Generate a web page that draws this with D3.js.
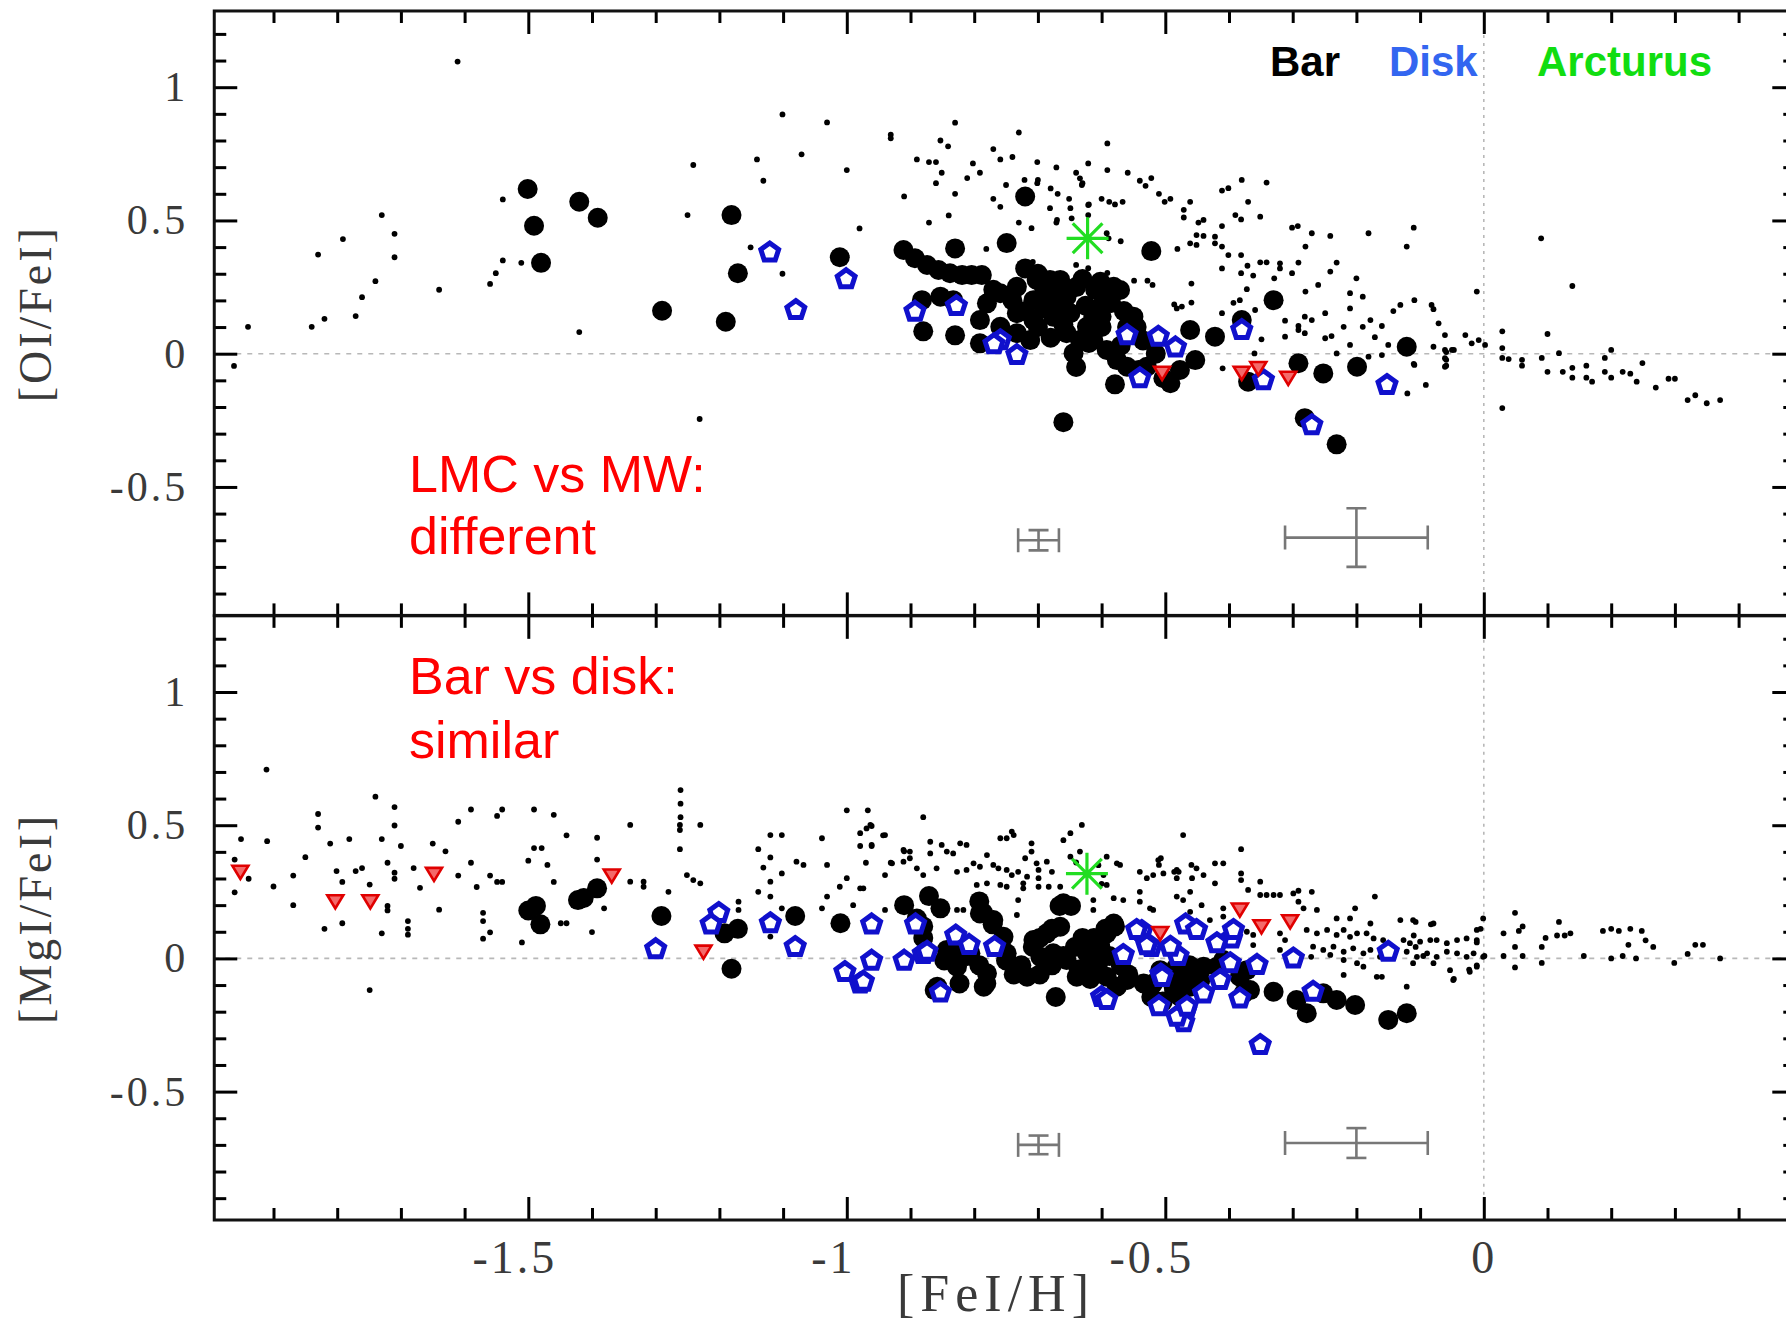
<!DOCTYPE html>
<html><head><meta charset="utf-8">
<script src="https://cdn.jsdelivr.net/npm/d3@7"></script>
<style>html,body{margin:0;padding:0;background:#fff;overflow:hidden}</style>
</head><body><svg id="c" width="1786" height="1324"></svg>
<script>
// ---------- DATA ----------
const xMajorTicks = [-1.5, -1, -0.5, 0];
const xTickLabels = ["-1.5", "-1", "-0.5", "0"];
const yMajorTicks = [-0.5, 0, 0.5, 1];
const yTickLabels = ["-0.5", "0", "0.5", "1"];

// Top panel [OI/FeI]
const mwO = [[-1.611,1.096],[-1.940,0.101],[-1.962,-0.046],[-1.840,0.101],[-1.820,0.131],[-1.830,0.372],[-1.791,0.430],[-1.730,0.520],[-1.710,0.450],[-1.710,0.362],[-1.740,0.272],[-1.761,0.212],[-1.771,0.141],[-1.640,0.240],[-1.560,0.262],[-1.551,0.302],[-1.540,0.350],[-1.511,0.341],[-1.540,0.579],[-1.420,0.081],[-1.250,0.520],[-1.241,0.708],[-1.141,0.729],[-1.131,0.649],[-1.151,0.399],[-1.101,0.300],[-1.101,0.898],[-1.071,0.748],[-1.031,0.868],[-1.000,0.689],[-0.980,0.470],[-1.231,-0.245],
[-0.931,0.808],[-0.931,0.822],[-0.830,0.867],[-0.853,0.800],[-0.841,0.778],[-0.890,0.729],[-0.871,0.719],[-0.860,0.719],[-0.851,0.679],[-0.860,0.640],[-0.910,0.590],[-0.840,0.519],[-0.871,0.492],[-0.830,0.600],[-0.811,0.659],[-0.802,0.714],[-0.791,0.679],[-0.770,0.768],[-0.759,0.729],[-0.740,0.738],[-0.730,0.830],[-0.750,0.633],[-0.770,0.581],[-0.759,0.551],[-0.730,0.492],[-0.710,0.471],[-0.781,0.393],[-0.701,0.719],[-0.701,0.640],[-0.671,0.699],[-0.680,0.620],[-0.669,0.600],[-0.651,0.581],[-0.671,0.492],[-0.640,0.679],[-0.630,0.640],[-0.621,0.714],[-0.620,0.560],[-0.591,0.789],[-0.591,0.689],[-0.600,0.581],[-0.588,0.570],[-0.579,0.560],[-0.567,0.570],[-0.559,0.679],[-0.540,0.649],[-0.531,0.630],[-0.522,0.659],[-0.510,0.600],[-0.501,0.570],[-0.492,0.581],[-0.471,0.540],[-0.471,0.511],[-0.640,0.333],[-0.621,0.321],[-0.591,0.303],[-0.589,0.433],[-0.570,0.422],[-0.549,0.274],[-0.528,0.274],[-0.481,0.393],[-0.459,0.263],[-0.708,0.344],[-0.486,0.185],[-0.474,0.177],[-0.459,0.192],
[-0.721,0.652],[-0.700,0.652],[-0.634,0.658],[-0.631,0.633],[-0.681,0.546],[-0.670,0.502],[-0.649,0.546],[-0.647,0.508],[-0.621,0.558],[-0.621,0.520],[-0.592,0.452],[-0.520,0.258],[-0.482,0.170],
[-0.380,0.652],[-0.341,0.642],[-0.411,0.612],[-0.401,0.621],[-0.461,0.570],[-0.370,0.570],[-0.390,0.520],[-0.381,0.504],[-0.351,0.514],[-0.448,0.492],[-0.440,0.502],[-0.411,0.479],[-0.451,0.445],[-0.440,0.442],[-0.422,0.439],[-0.422,0.414],[-0.461,0.414],[-0.451,0.408],[-0.411,0.402],[-0.401,0.370],[-0.381,0.370],[-0.411,0.320],[-0.371,0.330],[-0.381,0.302],[-0.362,0.293],[-0.351,0.343],[-0.341,0.343],[-0.320,0.339],[-0.320,0.320],[-0.291,0.342],[-0.301,0.302],[-0.329,0.283],[-0.270,0.452],[-0.301,0.473],[-0.292,0.479],[-0.241,0.442],[-0.280,0.402],[-0.181,0.452],[-0.110,0.473],[-0.121,0.402],[-0.231,0.342],[-0.241,0.308],[-0.260,0.258],[-0.280,0.233],[-0.200,0.283],[-0.210,0.227],[-0.190,0.214],[-0.210,0.170],[-0.372,0.242],[-0.393,0.191],[-0.383,0.201],[-0.411,0.152],[-0.359,0.164],[-0.312,0.124],[-0.291,0.104],[-0.291,0.089],[-0.281,0.139],[-0.270,0.126],[-0.281,0.077],[-0.312,0.064],[-0.349,0.054],[-0.249,0.152],[-0.249,0.058],[-0.239,0.066],[-0.220,0.101],[-0.210,0.033],[-0.231,0.001],[-0.178,0.126],[-0.190,0.101],[-0.160,0.104],[-0.171,0.062],[-0.160,-0.005],[-0.150,0.033],[-0.181,-0.011],[-0.142,0.160],[-0.131,0.183],[-0.109,0.201],[-0.082,0.183],[-0.079,0.167],[-0.071,0.114],[-0.061,0.070],[-0.029,0.070],[-0.019,0.039],[-0.008,0.051],[0.002,0.033],[-0.061,0.014],[-0.050,0.014],[-0.061,-0.017],[-0.061,-0.049],[-0.079,0.026],[-0.109,-0.042],[-0.091,-0.117],[-0.120,-0.149],[-0.011,0.233],[-0.410,-0.055],[-0.360,0.001],
[0.090,0.433],[0.139,0.254],[0.029,0.084],[0.100,0.074],[0.029,0.021],[0.029,-0.016],[0.039,-0.020],[0.060,-0.023],[0.060,-0.045],[0.091,-0.016],[0.118,0.002],[0.100,-0.068],[0.124,-0.068],[0.139,-0.053],[0.139,-0.090],[0.161,-0.045],[0.161,-0.090],[0.170,-0.105],[0.190,-0.016],[0.200,0.014],[0.190,-0.068],[0.200,-0.090],[0.218,-0.068],[0.230,-0.075],[0.240,-0.105],[0.249,-0.035],[0.270,-0.127],[0.290,-0.094],[0.300,-0.094],[0.320,-0.174],[0.332,-0.156],[0.350,-0.186],[0.371,-0.174],[0.029,-0.204],[-0.059,0.006],[-0.059,-0.023],[-0.059,-0.045],[-0.047,0.014],[-0.110,-0.038]];
const barO = [[-1.501,0.618],[-1.491,0.480],[-1.480,0.341],[-1.420,0.570],[-1.391,0.510],[-1.290,0.161],[-1.190,0.120],[-1.181,0.520],[-1.171,0.302],[-1.011,0.362],
[-0.720,0.590],[-0.830,0.395],[-0.749,0.415],[-0.522,0.385],[-0.660,-0.257],[-0.880,0.084],[-0.830,0.069],[-0.579,-0.115],[-0.640,-0.050],
[-0.911,0.389],[-0.893,0.358],[-0.874,0.333],[-0.856,0.314],[-0.838,0.302],[-0.819,0.295],[-0.804,0.295],[-0.788,0.295],
[-0.882,0.201],[-0.853,0.214],[-0.833,0.201],[-0.791,0.039],[-0.780,0.189],[-0.791,0.126],[-0.759,0.227],[-0.733,0.251],[-0.720,0.320],[-0.702,0.277],[-0.681,0.277],[-0.665,0.277],[-0.707,0.201],[-0.686,0.201],[-0.655,0.214],[-0.733,0.152],[-0.707,0.126],[-0.676,0.139],[-0.649,0.152],[-0.759,0.101],[-0.733,0.077],[-0.712,0.051],[-0.655,0.077],[-0.634,0.051],[-0.644,0.002],[-0.623,0.101],[-0.613,0.139],[-0.602,0.176],[-0.592,0.214],[-0.581,0.251],[-0.571,0.239],[-0.602,0.270],[-0.613,0.051],[-0.592,0.014],[-0.576,-0.024],[-0.560,-0.049],[-0.542,-0.061],[-0.529,-0.049],[-0.550,0.139],[-0.503,-0.092],
[-0.690,0.240],[-0.660,0.180],[-0.640,0.250],[-0.700,0.100],[-0.565,0.160],[-0.600,0.100],[-0.545,0.100],
[-0.740,0.200],[-0.720,0.160],[-0.690,0.170],[-0.670,0.230],[-0.625,0.180],[-0.610,0.240],[-0.585,0.190],[-0.600,0.140],[-0.660,0.110],[-0.680,0.060],[-0.620,0.040],[-0.560,0.100],[-0.570,0.030],[-0.630,0.280],[-0.700,0.300],[-0.770,0.240],[-0.535,0.050],[-0.515,0.000],
[-0.330,0.201],[-0.461,0.089],[-0.422,0.064],[-0.453,-0.024],[-0.477,-0.061],[-0.492,-0.111],[-0.380,0.126],[-0.370,-0.105],[-0.291,-0.036],[-0.252,-0.074],[-0.199,-0.049],[-0.121,0.026],[-0.281,-0.242],[-0.231,-0.340]];
const diskO = [[-1.121,0.380],[-1.080,0.164],[-1.001,0.280],[-0.893,0.158],[-0.733,-0.005],[-0.560,0.070],[-0.511,0.064],[-0.540,-0.092],[-0.759,0.051],[-0.828,0.179],[-0.769,0.036],[-0.380,0.089],[-0.346,-0.099],[-0.152,-0.117],[-0.270,-0.268],[-0.484,0.024]];
const limO = [[-0.505,-0.067],[-0.380,-0.067],[-0.354,-0.049],[-0.307,-0.086]];
const arcO = [[-0.622,0.433]];
const errO = [[-0.699,-0.700,0.032,0.038],[-0.200,-0.690,0.112,0.110]];

// Bottom panel [MgI/FeI]
const mwMg = [[-1.911,0.709],[-1.951,0.448],[-1.910,0.440],[-1.961,0.371],[-1.961,0.248],[-1.939,0.299],[-1.900,0.270],[-1.869,0.311],[-1.869,0.200],[-1.850,0.380],[-1.830,0.542],[-1.830,0.491],[-1.820,0.111],[-1.811,0.431],[-1.801,0.328],[-1.792,0.287],[-1.792,0.132],[-1.781,0.448],[-1.771,0.328],[-1.761,0.339],[-1.749,0.277],[-1.749,-0.119],[-1.740,0.607],[-1.730,0.448],[-1.730,0.094],[-1.721,0.359],[-1.721,0.197],[-1.721,0.180],[-1.710,0.568],[-1.710,0.499],[-1.710,0.322],[-1.710,0.299],[-1.700,0.422],[-1.689,0.140],[-1.689,0.111],[-1.689,0.089],[-1.680,0.339],[-1.670,0.265],[-1.650,0.431],[-1.640,0.183],[-1.630,0.402],[-1.610,0.513],[-1.610,0.311],[-1.590,0.559],[-1.590,0.359],[-1.581,0.268],[-1.571,0.171],[-1.571,0.140],[-1.571,0.074],[-1.560,0.311],[-1.560,0.098],[-1.549,0.535],[-1.541,0.559],[-1.549,0.287],[-1.541,0.287],[-1.510,0.060],[-1.500,0.367],[-1.491,0.414],[-1.479,0.414],[-1.491,0.559],[-1.470,0.351],[-1.460,0.539],[-1.460,0.287],[-1.449,0.132],[-1.440,0.132],[-1.440,0.462],[-1.400,0.099],[-1.392,0.453],[-1.392,0.371],
[-1.340,0.501],[-1.262,0.501],[-1.262,0.482],[-1.230,0.501],[-1.262,0.410],[-1.340,0.288],[-1.319,0.288],[-1.319,0.269],[-1.251,0.313],[-1.241,0.294],[-1.230,0.282],[-1.280,0.250],[-1.381,0.188],[-1.170,0.213],[-1.170,0.182],[-1.120,0.463],[-1.102,0.463],[-1.139,0.410],[-1.120,0.379],[-1.131,0.341],[-1.102,0.319],[-1.120,0.288],[-1.139,0.250],[-1.120,0.232],[-1.102,0.188],[-1.120,0.082],[-1.079,0.363],[-1.068,0.351],[-1.039,0.451],[-1.031,0.351],[-1.031,0.232],[-1.039,0.188],[-1.000,0.301],[-1.011,0.269],[-0.990,0.200],[-0.979,0.263],[-0.979,0.470],[-0.969,0.488],[-0.961,0.497],[-0.979,0.422],[-0.961,0.422],[-0.970,0.359],
[-1.261,0.632],[-1.261,0.581],[-1.261,0.530],[-1.000,0.556],[-0.967,0.556],[-0.880,0.530],[-0.943,0.462],[-0.931,0.359],[-0.910,0.402],
[-0.963,0.501],[-0.940,0.463],[-0.961,0.426],[-0.940,0.313],[-0.911,0.407],[-0.901,0.401],[-0.901,0.376],[-0.911,0.363],[-0.929,0.357],[-0.890,0.338],[-0.880,0.313],[-0.869,0.438],[-0.869,0.394],[-0.851,0.426],[-0.843,0.401],[-0.833,0.394],[-0.822,0.432],[-0.812,0.426],[-0.859,0.338],[-0.827,0.325],[-0.812,0.332],[-0.801,0.357],[-0.791,0.344],[-0.780,0.388],[-0.770,0.351],[-0.762,0.338],[-0.749,0.332],[-0.759,0.451],[-0.749,0.451],[-0.738,0.463],[-0.741,0.476],[-0.710,0.432],[-0.710,0.401],[-0.720,0.376],[-0.702,0.357],[-0.686,0.363],[-0.731,0.325],[-0.741,0.313],[-0.717,0.307],[-0.699,0.332],[-0.678,0.325],[-0.631,0.501],[-0.660,0.444],[-0.649,0.470],[-0.634,0.401],[-0.649,0.382],[-0.592,0.382],[-0.576,0.357],[-0.571,0.351],[-0.597,0.313],[-0.540,0.325],[-0.529,0.301],[-0.519,0.313],[-0.511,0.369],[-0.503,0.319],[-0.482,0.332],[-0.974,0.263],[-0.940,0.182],[-0.827,0.182],[-0.817,0.182],[-0.796,0.276],[-0.780,0.282],[-0.759,0.276],[-0.749,0.269],[-0.731,0.219],[-0.733,0.163],[-0.723,0.282],[-0.723,0.263],[-0.699,0.301],[-0.699,0.269],[-0.683,0.269],[-0.592,0.276],[-0.581,0.226],[-0.566,0.219],[-0.540,0.250],[-0.540,0.213],[-0.524,0.188],[-0.519,0.182],[-0.613,0.219],[-0.613,0.182],[-0.482,0.301],[-0.482,0.232],[-0.665,0.269],[-0.640,0.360],[-0.605,0.350],[-0.600,0.280],[-0.507,0.376],[-0.510,0.351],[-0.486,0.325],[-0.459,0.351],
[-0.472,0.463],[-0.381,0.410],[-0.479,0.325],[-0.458,0.301],[-0.451,0.338],[-0.440,0.313],[-0.422,0.357],[-0.409,0.357],[-0.422,0.282],[-0.381,0.319],[-0.381,0.294],[-0.370,0.257],[-0.351,0.288],[-0.351,0.238],[-0.341,0.238],[-0.330,0.238],[-0.320,0.238],[-0.299,0.244],[-0.291,0.254],[-0.270,0.250],[-0.461,0.250],[-0.472,0.219],[-0.461,0.175],[-0.443,0.200],[-0.409,0.188],[-0.409,0.157],[-0.430,0.144],[-0.291,0.213],[-0.283,0.188],[-0.262,0.182],[-0.171,0.232],[-0.202,0.188],[-0.231,0.150],[-0.210,0.150],[-0.178,0.131],[-0.131,0.144],[-0.111,0.144],[-0.079,0.131],[-0.001,0.150],[-0.011,0.107],
[-0.278,0.107],[-0.262,0.094],[-0.246,0.107],[-0.231,0.088],[-0.220,0.107],[-0.210,0.081],[-0.199,0.094],[-0.184,0.094],[-0.173,0.075],[-0.158,0.069],[-0.126,0.069],[-0.116,0.057],[-0.100,0.063],[-0.084,0.069],[-0.074,0.069],[-0.058,0.057],[-0.042,0.069],[-0.027,0.075],[-0.011,0.069],
[-0.268,0.044],[-0.252,0.032],[-0.236,0.044],[-0.220,0.025],[-0.205,0.038],[-0.189,0.019],[-0.178,0.032],[-0.163,0.006],[-0.121,0.025],[-0.105,0.006],[-0.089,0.019],[-0.074,0.006],[-0.058,0.025],[-0.042,0.019],[-0.027,0.006],[-0.016,0.019],[-0.001,0.006],
[-0.271,0.006],[-0.241,0.013],[-0.220,-0.006],[-0.199,-0.018],[-0.189,-0.031],[-0.220,-0.062],[-0.168,-0.069],[-0.160,-0.069],[-0.121,-0.106],[-0.111,-0.018],[-0.079,-0.018],[-0.053,-0.044],[-0.048,-0.081],[-0.022,-0.050],[-0.011,-0.031],
[-0.398,0.131],[-0.372,0.100],[-0.362,0.088],[-0.362,0.050],[-0.320,0.094],[-0.312,0.069],[-0.320,0.032],
[-0.107,0.137],[-0.083,0.128],[-0.110,0.086],[-0.107,0.043],[-0.095,0.009],[-0.047,-0.077],[-0.023,-0.042],[-0.011,-0.026],[0.001,0.009],[-0.011,0.060],[-0.005,0.111],[0.031,0.094],[0.031,0.009],[0.049,0.043],[0.049,-0.034],[0.055,0.103],[0.049,0.171],[0.061,0.120],[0.061,0.009],[0.091,0.043],[0.091,-0.017],[0.097,0.077],[0.115,0.086],[0.127,0.086],[0.136,0.094],[0.118,0.137],[0.157,0.009],[0.187,0.103],[0.200,0.111],[0.212,0.103],[0.200,0.000],[0.218,0.009],[0.227,0.051],[0.230,0.111],[0.239,0.000],[0.248,0.103],[0.254,0.068],[0.266,0.043],[0.299,-0.017],[0.320,0.017],[0.332,0.051],[0.344,0.051],[0.371,0.000]];
const barMg = [[-1.500,0.180],[-1.488,0.197],[-1.481,0.128],[-1.422,0.219],[-1.413,0.227],[-1.392,0.263],[-1.291,0.159],[-1.192,0.094],[-1.171,0.111],[-1.181,-0.039],[-1.081,0.159],[-1.010,0.132],
[-0.910,0.200],[-0.871,0.234],[-0.853,0.188],[-0.890,0.150],[-0.880,0.120],[-0.880,0.077],[-0.792,0.214],[-0.786,0.171],[-0.771,0.128],[-0.862,-0.119],[-0.823,-0.094],[-0.847,-0.008],[-0.835,0.026],[-0.811,0.009],[-0.792,-0.026],[-0.781,-0.094],[-0.762,0.043],[-0.750,-0.008],[-0.738,-0.060],[-0.726,-0.026],[-0.708,0.043],[-0.697,0.077],[-0.678,0.111],[-0.666,0.197],[-0.648,0.197],[-0.672,-0.145],[-0.697,-0.060],[-0.678,-0.026],[-0.660,0.009],[-0.642,0.043],[-0.630,0.077],[-0.612,0.077],[-0.594,0.111],[-0.579,0.120],[-0.636,-0.042],[-0.618,-0.077],[-0.606,-0.026],[-0.588,0.009],[-0.570,-0.026],[-0.558,-0.060],[-0.534,-0.094],[-0.522,-0.145],[-0.504,-0.162],[-0.486,-0.128],[-0.474,-0.060],[-0.462,-0.026],
[-0.843,0.032],[-0.827,-0.031],[-0.858,-0.106],[-0.806,0.019],[-0.780,-0.056],[-0.785,-0.106],[-0.754,0.081],[-0.749,0.019],[-0.733,-0.031],[-0.717,-0.069],[-0.707,0.069],[-0.686,0.094],[-0.665,0.119],[-0.696,0.006],[-0.676,0.019],[-0.655,-0.006],[-0.791,0.169],[-0.770,0.144],[-0.639,-0.069],[-0.613,-0.018],[-0.602,0.044],[-0.592,0.094],[-0.581,0.131],[-0.623,0.019],[-0.592,-0.069],[-0.576,-0.106],[-0.560,-0.081],[-0.519,-0.094],[-0.508,-0.044],[-0.660,0.207],
[-0.482,-0.031],[-0.461,-0.044],[-0.440,-0.031],[-0.419,-0.031],[-0.487,-0.106],[-0.461,-0.106],[-0.477,-0.144],[-0.445,-0.081],[-0.409,-0.006],[-0.383,-0.069],[-0.372,-0.044],[-0.367,-0.119],[-0.377,-0.131],[-0.330,-0.125],[-0.294,-0.156],[-0.278,-0.206],[-0.252,-0.131],[-0.231,-0.156],[-0.202,-0.175],[-0.150,-0.231],[-0.121,-0.206]];
const diskMg = [[-1.300,0.035],[-1.201,0.171],[-1.213,0.128],[-1.120,0.132],[-1.081,0.043],[-1.003,-0.051],[-0.979,-0.094],[-0.961,-0.008],[-0.961,0.128],[-0.910,-0.008],[-0.880,0.017],[-0.892,0.128],[-0.853,-0.128],[-0.829,0.086],[-0.808,0.051],[-0.768,0.043],[-0.600,-0.145],[-0.537,0.103],[-0.522,0.043],[-0.510,-0.179],[-0.468,0.128],[-0.480,0.009],[-0.468,-0.196],[-0.471,-0.239],[-0.507,-0.060],
[-0.974,-0.087],[-0.592,-0.156],[-0.545,0.107],[-0.529,0.050],[-0.505,-0.069],[-0.482,-0.219],[-0.492,0.044],[-0.566,0.013],[-0.874,0.025],
[-0.451,0.107],[-0.396,0.075],[-0.393,0.107],[-0.398,-0.018],[-0.356,-0.024],[-0.383,-0.150],[-0.299,0.000],[-0.268,-0.125],[-0.150,0.025],[-0.351,-0.325],[-0.414,-0.081],[-0.440,-0.131],[-0.466,-0.181],[-0.419,0.057]];
const limMg = [[-1.952,0.330],[-1.803,0.219],[-1.748,0.219],[-1.648,0.322],[-1.369,0.316],[-1.225,0.030],[-0.508,0.100],[-0.383,0.188],[-0.349,0.125],[-0.304,0.144]];
const arcMg = [[-0.623,0.318]];
const errMg = [[-0.699,-0.700,0.032,0.035],[-0.200,-0.693,0.112,0.056]];

const legendItems = [["Bar","#000000"],["Disk","#3366f0"],["Arcturus","#11dd11"]];
const notesTop = ["LMC vs MW:", "different"];
const notesBottom = ["Bar vs disk:", "similar"];

// ---------- DRAW ----------
const svg = d3.select("#c");
svg.append("rect").attr("width",1786).attr("height",1324).attr("fill","#fff");

const x = d3.scaleLinear().domain([-2, 0.5]).range([209.8, 1802.3]);
const xLo = -1.993, xHi = 0.489, yLo = -0.982, yHi = 1.286;

const pentagon = { draw(ctx, size) {
  const r = Math.sqrt(size);
  for (let i = 0; i < 5; i++) {
    const a = -Math.PI/2 + i*2*Math.PI/5;
    const px = r*Math.cos(a), py = r*Math.sin(a);
    if (i === 0) ctx.moveTo(px, py); else ctx.lineTo(px, py);
  }
  ctx.closePath();
}};
const triDown = { draw(ctx, size) {
  const r = Math.sqrt(size);
  ctx.moveTo(-r, -r*0.6); ctx.lineTo(r, -r*0.6); ctx.lineTo(0, r*1.05); ctx.closePath();
}};
const star8 = { draw(ctx, size) {
  const r = Math.sqrt(size);
  for (let i = 0; i < 4; i++) {
    const a = i*Math.PI/4;
    ctx.moveTo(-r*Math.cos(a), -r*Math.sin(a)); ctx.lineTo(r*Math.cos(a), r*Math.sin(a));
  }
}};

const xMinor = d3.range(-19, 5).map(i => i/10).filter(v => !xMajorTicks.some(m => Math.abs(m - v) < 1e-9));
const yMinor = d3.range(-9, 13).map(i => i/10).filter(v => !yMajorTicks.some(m => Math.abs(m - v) < 1e-9));

const panels = [
  {y: d3.scaleLinear().domain([-1, 1.3]).range([620.2, 7.25]), mw: mwO, bar: barO, disk: diskO, lim: limO, arc: arcO, err: errO, title: "[OI/FeI]", showX: false, id: "t"},
  {y: d3.scaleLinear().domain([-1, 1.3]).range([1224.8, 612.1]), mw: mwMg, bar: barMg, disk: diskMg, lim: limMg, arc: arcMg, err: errMg, title: "[MgI/FeI]", showX: true, id: "b"}
];

const serif = "'Liberation Serif', 'Times New Roman', serif";
const sans = "'Liberation Sans', Arial, sans-serif";

panels.forEach(p => {
  const y = p.y;
  const g = svg.append("g");
  const L = x(xLo), R = x(xHi), T = y(yHi), B = y(yLo);
  g.append("clipPath").attr("id", "clip" + p.id).append("rect")
    .attr("x", L).attr("y", T).attr("width", R - L).attr("height", B - T);
  const pg = g.append("g").attr("clip-path", `url(#clip${p.id})`);

  // reference lines
  pg.append("line").attr("x1", L).attr("x2", R).attr("y1", y(0)).attr("y2", y(0))
    .attr("stroke", "#b8b8b8").attr("stroke-width", 1.6).attr("stroke-dasharray", "5,6");
  pg.append("line").attr("x1", x(0)).attr("x2", x(0)).attr("y1", T).attr("y2", B)
    .attr("stroke", "#b8b8b8").attr("stroke-width", 1.6).attr("stroke-dasharray", "3,5");

  // error bars
  p.err.forEach(e => {
    const [ex, ey, dx, dy] = e;
    const eg = pg.append("g").attr("stroke", "#777").attr("stroke-width", 2.6).attr("fill", "none");
    eg.append("line").attr("x1", x(ex - dx)).attr("x2", x(ex + dx)).attr("y1", y(ey)).attr("y2", y(ey));
    eg.append("line").attr("x1", x(ex)).attr("x2", x(ex)).attr("y1", y(ey - dy)).attr("y2", y(ey + dy));
    [ex - dx, ex + dx].forEach(cx => eg.append("line").attr("x1", x(cx)).attr("x2", x(cx)).attr("y1", y(ey) - 12).attr("y2", y(ey) + 12));
    [ey - dy, ey + dy].forEach(cy => eg.append("line").attr("x1", x(ex) - 10).attr("x2", x(ex) + 10).attr("y1", y(cy)).attr("y2", y(cy)));
  });

  // MW field stars
  pg.append("g").selectAll("circle").data(p.mw).join("circle")
    .attr("cx", d => x(d[0])).attr("cy", d => y(d[1])).attr("r", 2.9).attr("fill", "#000");
  // Bar giants
  pg.append("g").selectAll("circle").data(p.bar).join("circle")
    .attr("cx", d => x(d[0])).attr("cy", d => y(d[1])).attr("r", 10).attr("fill", "#000");
  // Disk giants
  pg.append("g").selectAll("path").data(p.disk).join("path")
    .attr("d", d3.symbol().type(pentagon).size(88))
    .attr("transform", d => `translate(${x(d[0])},${y(d[1])})`)
    .attr("fill", "#fff").attr("stroke", "#1010cc").attr("stroke-width", 5);
  // upper limits
  pg.append("g").selectAll("path").data(p.lim).join("path")
    .attr("d", d3.symbol().type(triDown).size(64))
    .attr("transform", d => `translate(${x(d[0])},${y(d[1])})`)
    .attr("fill", "#f46a6a").attr("stroke", "#e00000").attr("stroke-width", 2.6);
  // Arcturus
  pg.append("g").selectAll("path").data(p.arc).join("path")
    .attr("d", d3.symbol().type(star8).size(441))
    .attr("transform", d => `translate(${x(d[0])},${y(d[1])})`)
    .attr("fill", "none").attr("stroke", "#22dd22").attr("stroke-width", 3.2);

  // axes (inward ticks on all sides)
  const styleAxis = sel => {
    sel.select(".domain").remove();
    sel.selectAll(".tick line").attr("stroke", "#000").attr("stroke-width", 3);
  };
  const mk = (axisFn, scale, vals, size, tx, ty, labels) => {
    const a = axisFn(scale).tickValues(vals).tickSizeInner(-size).tickSizeOuter(0)
      .tickFormat(labels ? ((d, i) => labels[i]) : () => "");
    return g.append("g").attr("transform", `translate(${tx},${ty})`).call(a).call(styleAxis);
  };
  const yl = mk(d3.axisLeft, y, yMajorTicks, 23, L, 0, yTickLabels);
  yl.selectAll("text").attr("font-family", serif).attr("font-size", 42).attr("fill", "#3a3a3a")
    .attr("letter-spacing", "3px").attr("x", -26);
  mk(d3.axisLeft, y, yMinor, 12, L, 0, null);
  mk(d3.axisRight, y, yMajorTicks, 23, R, 0, null);
  mk(d3.axisRight, y, yMinor, 12, R, 0, null);
  mk(d3.axisTop, x, xMajorTicks, 23, 0, T, null);
  mk(d3.axisTop, x, xMinor, 12, 0, T, null);
  const xb = mk(d3.axisBottom, x, xMajorTicks, 23, 0, B, p.showX ? xTickLabels : null);
  mk(d3.axisBottom, x, xMinor, 12, 0, B, null);
  if (p.showX) {
    xb.selectAll("text").attr("font-family", serif).attr("font-size", 46).attr("fill", "#3a3a3a")
      .attr("letter-spacing", "3px").attr("y", 20)
      .attr("dx", d => d < 0 ? -14 : 0);
  }

  // frame
  g.append("rect").attr("x", L).attr("y", T).attr("width", R - L).attr("height", B - T)
    .attr("fill", "none").attr("stroke", "#111").attr("stroke-width", 3);

  // y title
  g.append("text").attr("transform", `translate(51,${y(0.15)}) rotate(-90)`)
    .attr("text-anchor", "middle").attr("font-family", serif).attr("font-size", 46)
    .attr("letter-spacing", "3px").attr("fill", "#3a3a3a").text(p.title);
});

// x title (kept fully inside the canvas)
svg.append("text").attr("x", 996).attr("y", 1311).attr("text-anchor", "middle")
  .attr("font-family", serif).attr("font-size", 52).attr("letter-spacing", "6px")
  .attr("fill", "#3a3a3a").text("[FeI/H]");

// legend
const legX = [1270, 1389, 1537];
svg.append("g").selectAll("text").data(legendItems).join("text")
  .attr("x", (d, i) => legX[i]).attr("y", 76)
  .attr("font-family", sans).attr("font-weight", "bold").attr("font-size", 42)
  .attr("fill", d => d[1]).text(d => d[0]);

// annotations
const ann = svg.append("g").attr("font-family", sans).attr("font-size", 52).attr("fill", "#ff0000");
notesTop.forEach((t, i) => ann.append("text").attr("x", 409).attr("y", 492 + i*62).text(t));
notesBottom.forEach((t, i) => ann.append("text").attr("x", 409).attr("y", 694 + i*64).text(t));
</script></body></html>
